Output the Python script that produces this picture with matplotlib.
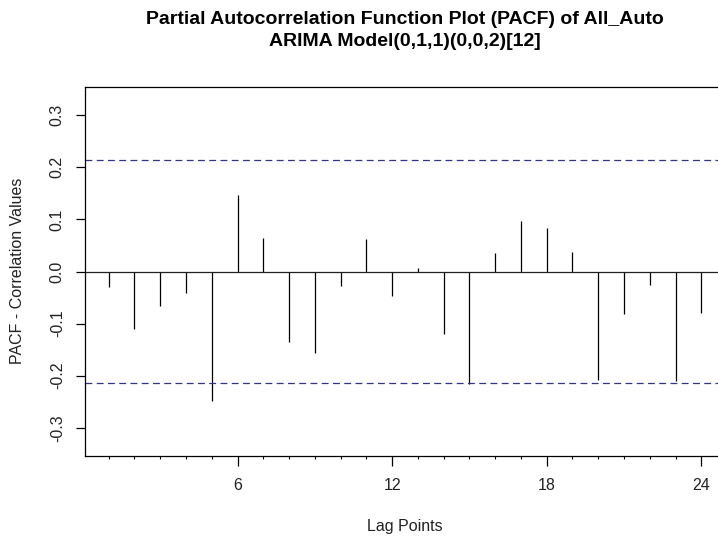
import matplotlib
matplotlib.use("Agg")
import matplotlib.pyplot as plt
import numpy as np

# partial autocorrelations of the model residuals, lags 1..24
lags = np.arange(1, 25)
pacf_vals = [-0.029, -0.111, -0.066, -0.042, -0.248, 0.146, 0.064, -0.135,
             -0.157, -0.027, 0.062, -0.047, 0.006, -0.120, -0.216, 0.035,
             0.097, 0.083, 0.038, -0.209, -0.082, -0.025, -0.211, -0.079]
conf_bound = 0.214
major_lags = [6, 12, 18, 24]

plt.rcParams["font.family"] = ["Liberation Sans", "DejaVu Sans"]

W, H = 718, 538
fig = plt.figure(figsize=(W / 100, H / 100), dpi=100)
# plot region runs past the right edge of the canvas
left, right, top, bottom = 85, 725, 87, 456
ax = fig.add_axes([left / W, 1 - bottom / H, (right - left) / W, (bottom - top) / H])

ax.vlines(lags, 0, pacf_vals, color="black", lw=0.9)
ax.axhline(0, color="#222222", lw=0.9)
for y in (conf_bound, -conf_bound):
    ax.axhline(y, color="#333388", lw=0.9, ls=(0, (5.5, 3.5)))

ax.set_xlim(0.08, 24.92)
ax.set_ylim(-0.354, 0.354)

ax.set_xticks(major_lags)
ax.set_xticks([l for l in lags if l not in major_lags], minor=True)
ax.tick_params(axis="x", which="major", length=7, width=0.9, pad=9, labelsize=11.5,
               labelcolor="#222222")
ax.tick_params(axis="x", which="minor", length=2, width=0.8)
ax.set_yticks([-0.3, -0.2, -0.1, 0.0, 0.1, 0.2, 0.3])
ax.set_yticklabels(["-0.3", "-0.2", "-0.1", "0.0", "0.1", "0.2", "0.3"],
                   rotation=90, va="center")
ax.tick_params(axis="y", length=6.5, width=0.9, pad=8, labelsize=11.5,
               labelcolor="#222222")
for s in ax.spines.values():
    s.set_linewidth(0.9)

cx = (left + right) / 2 / W
fig.text(cx, 1 - 20 / H, "Partial Autocorrelation Function Plot (PACF) of All_Auto",
         ha="center", va="center", fontsize=14, fontweight="bold")
fig.text(cx, 1 - 42 / H, "ARIMA Model(0,1,1)(0,0,2)[12]",
         ha="center", va="center", fontsize=14, fontweight="bold")
fig.text(cx, 1 - 527 / H, "Lag Points", ha="center", va="center", fontsize=11.5,
         color="#222222")
fig.text(18 / W, 1 - 271 / H, "PACF - Correlation Values", ha="center", va="center",
         rotation=90, fontsize=11.5, color="#222222")

fig.savefig("out.png", dpi=100)
